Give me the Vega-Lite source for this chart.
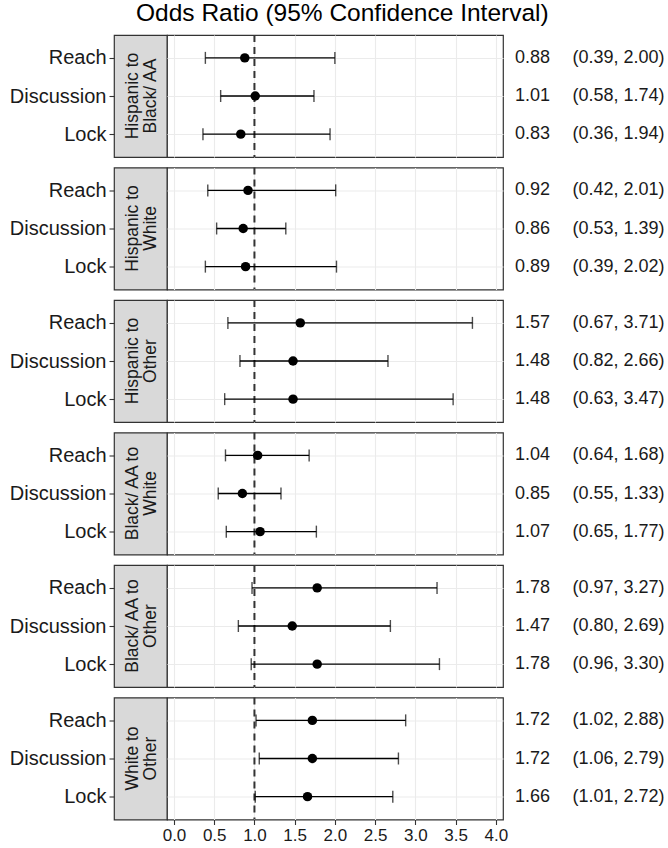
{
  "$schema": "https://vega.github.io/schema/vega-lite/v6.json",
  "padding": {"left": 8, "top": 0, "right": 0, "bottom": 0},
  "title": {"text": "Odds Ratio (95% Confidence Interval)", "fontSize": 24.5, "font": "Liberation Sans", "fontWeight": "normal", "color": "#000000", "anchor": "middle", "frame": "bounds", "offset": 7, "dx": 4},
  "config": {"font": "Liberation Sans", "view": {"stroke": null}},
  "datasets": {
    "d": [
      {"g": 1, "group": "Hispanic to\nBlack/ AA", "outcome": "Reach", "or": 0.88, "lo": 0.39, "hi": 2.00},
      {"g": 1, "group": "Hispanic to\nBlack/ AA", "outcome": "Discussion", "or": 1.01, "lo": 0.58, "hi": 1.74},
      {"g": 1, "group": "Hispanic to\nBlack/ AA", "outcome": "Lock", "or": 0.83, "lo": 0.36, "hi": 1.94},
      {"g": 2, "group": "Hispanic to\nWhite", "outcome": "Reach", "or": 0.92, "lo": 0.42, "hi": 2.01},
      {"g": 2, "group": "Hispanic to\nWhite", "outcome": "Discussion", "or": 0.86, "lo": 0.53, "hi": 1.39},
      {"g": 2, "group": "Hispanic to\nWhite", "outcome": "Lock", "or": 0.89, "lo": 0.39, "hi": 2.02},
      {"g": 3, "group": "Hispanic to\nOther", "outcome": "Reach", "or": 1.57, "lo": 0.67, "hi": 3.71},
      {"g": 3, "group": "Hispanic to\nOther", "outcome": "Discussion", "or": 1.48, "lo": 0.82, "hi": 2.66},
      {"g": 3, "group": "Hispanic to\nOther", "outcome": "Lock", "or": 1.48, "lo": 0.63, "hi": 3.47},
      {"g": 4, "group": "Black/ AA to\nWhite", "outcome": "Reach", "or": 1.04, "lo": 0.64, "hi": 1.68},
      {"g": 4, "group": "Black/ AA to\nWhite", "outcome": "Discussion", "or": 0.85, "lo": 0.55, "hi": 1.33},
      {"g": 4, "group": "Black/ AA to\nWhite", "outcome": "Lock", "or": 1.07, "lo": 0.65, "hi": 1.77},
      {"g": 5, "group": "Black/ AA to\nOther", "outcome": "Reach", "or": 1.78, "lo": 0.97, "hi": 3.27},
      {"g": 5, "group": "Black/ AA to\nOther", "outcome": "Discussion", "or": 1.47, "lo": 0.80, "hi": 2.69},
      {"g": 5, "group": "Black/ AA to\nOther", "outcome": "Lock", "or": 1.78, "lo": 0.96, "hi": 3.30},
      {"g": 6, "group": "White to\nOther", "outcome": "Reach", "or": 1.72, "lo": 1.02, "hi": 2.88},
      {"g": 6, "group": "White to\nOther", "outcome": "Discussion", "or": 1.72, "lo": 1.06, "hi": 2.79},
      {"g": 6, "group": "White to\nOther", "outcome": "Lock", "or": 1.66, "lo": 1.01, "hi": 2.72}
    ]
  },
  "columns": 3,
  "spacing": {"row": 10.5, "column": 0},
  "bounds": "flush",
  "concat": [
    {"width": 53, "height": 122, "data": {"name": "d"}, "transform": [{"filter": "datum.g == 1"}],
     "view": {"fill": "#d9d9d9", "stroke": "#333333", "strokeWidth": 1.2},
     "layer": [
       {"mark": {"type": "point", "opacity": 0}, "encoding": {"y": {"field": "outcome", "type": "nominal", "sort": ["Reach", "Discussion", "Lock"], "scale": {"type": "point", "padding": 0.6}, "axis": {"title": null, "grid": false, "domain": false, "labelFontSize": 20, "labelColor": "#1a1a1a", "tickColor": "#333333", "tickSize": 5, "tickWidth": 1.1, "labelPadding": 3}}}},
       {"transform": [{"filter": "datum.outcome == 'Reach'"}], "mark": {"type": "text", "angle": 270, "fontSize": 17.5, "color": "#1a1a1a", "lineBreak": "\n", "lineHeight": 18, "align": "center", "baseline": "middle", "dy": -8}, "encoding": {"text": {"field": "group"}}}
     ]},
    {"width": 336, "height": 122, "data": {"name": "d"}, "transform": [{"filter": "datum.g == 1"}],
     "view": {"fill": "#ffffff", "stroke": "#333333", "strokeWidth": 1.2},
     "layer": [
       {"transform": [{"filter": "datum.outcome == 'Reach'"}], "mark": {"type": "rule", "color": "#333333", "strokeWidth": 2, "strokeDash": [7, 5]}, "encoding": {"x": {"datum": 1, "type": "quantitative", "scale": {"domain": [-0.087, 4.09], "nice": false, "zero": false}, "axis": {"title": null, "labels": false, "ticks": false, "domain": false, "grid": true, "values": [0, 0.25, 0.5, 0.75, 1, 1.25, 1.5, 1.75, 2, 2.25, 2.5, 2.75, 3, 3.25, 3.5, 3.75, 4], "gridColor": "#ebebeb", "gridWidth": {"condition": {"test": "(datum.value*4) % 2 == 0", "value": 1.1}, "value": 0.55}}}}},
       {"mark": {"type": "rule", "color": "#000000", "strokeWidth": 1.4}, "encoding": {"x": {"field": "lo", "type": "quantitative"}, "x2": {"field": "hi"}, "y": {"field": "outcome", "type": "nominal", "sort": ["Reach", "Discussion", "Lock"], "scale": {"type": "point", "padding": 0.6}, "axis": {"title": null, "labels": false, "ticks": false, "domain": false, "grid": true, "gridColor": "#ebebeb", "gridWidth": 1.1}}}},
       {"mark": {"type": "tick", "color": "#000000", "thickness": 1.4, "size": 12}, "encoding": {"x": {"field": "lo", "type": "quantitative"}, "y": {"field": "outcome", "type": "nominal", "sort": ["Reach", "Discussion", "Lock"]}}},
       {"mark": {"type": "tick", "color": "#000000", "thickness": 1.4, "size": 12}, "encoding": {"x": {"field": "hi", "type": "quantitative"}, "y": {"field": "outcome", "type": "nominal", "sort": ["Reach", "Discussion", "Lock"]}}},
       {"mark": {"type": "point", "filled": true, "color": "#000000", "opacity": 1, "size": 90}, "encoding": {"x": {"field": "or", "type": "quantitative"}, "y": {"field": "outcome", "type": "nominal", "sort": ["Reach", "Discussion", "Lock"]}}}
     ]},
    {"width": 165, "height": 122, "data": {"name": "d"},
     "transform": [{"filter": "datum.g == 1"}, {"calculate": "format(datum.or, '.2f')", "as": "or_txt"}, {"calculate": "'(' + format(datum.lo, '.2f') + ', ' + format(datum.hi, '.2f') + ')'", "as": "ci_txt"}, {"fold": ["or_txt", "ci_txt"], "as": ["col", "txt"]}],
     "mark": {"type": "text", "fontSize": 18, "color": "#1a1a1a"},
     "encoding": {
       "x": {"field": "col", "type": "nominal", "scale": {"type": "point", "domain": ["or_txt", "ci_txt"], "padding": 0.459, "align": 0.373}, "axis": null},
       "y": {"field": "outcome", "type": "nominal", "sort": ["Reach", "Discussion", "Lock"], "scale": {"type": "point", "padding": 0.6}, "axis": null},
       "text": {"field": "txt"}
     }},

    {"width": 53, "height": 122, "data": {"name": "d"}, "transform": [{"filter": "datum.g == 2"}],
     "view": {"fill": "#d9d9d9", "stroke": "#333333", "strokeWidth": 1.2},
     "layer": [
       {"mark": {"type": "point", "opacity": 0}, "encoding": {"y": {"field": "outcome", "type": "nominal", "sort": ["Reach", "Discussion", "Lock"], "scale": {"type": "point", "padding": 0.6}, "axis": {"title": null, "grid": false, "domain": false, "labelFontSize": 20, "labelColor": "#1a1a1a", "tickColor": "#333333", "tickSize": 5, "tickWidth": 1.1, "labelPadding": 3}}}},
       {"transform": [{"filter": "datum.outcome == 'Reach'"}], "mark": {"type": "text", "angle": 270, "fontSize": 17.5, "color": "#1a1a1a", "lineBreak": "\n", "lineHeight": 18, "align": "center", "baseline": "middle", "dy": -8}, "encoding": {"text": {"field": "group"}}}
     ]},
    {"width": 336, "height": 122, "data": {"name": "d"}, "transform": [{"filter": "datum.g == 2"}],
     "view": {"fill": "#ffffff", "stroke": "#333333", "strokeWidth": 1.2},
     "layer": [
       {"transform": [{"filter": "datum.outcome == 'Reach'"}], "mark": {"type": "rule", "color": "#333333", "strokeWidth": 2, "strokeDash": [7, 5]}, "encoding": {"x": {"datum": 1, "type": "quantitative", "scale": {"domain": [-0.087, 4.09], "nice": false, "zero": false}, "axis": {"title": null, "labels": false, "ticks": false, "domain": false, "grid": true, "values": [0, 0.25, 0.5, 0.75, 1, 1.25, 1.5, 1.75, 2, 2.25, 2.5, 2.75, 3, 3.25, 3.5, 3.75, 4], "gridColor": "#ebebeb", "gridWidth": {"condition": {"test": "(datum.value*4) % 2 == 0", "value": 1.1}, "value": 0.55}}}}},
       {"mark": {"type": "rule", "color": "#000000", "strokeWidth": 1.4}, "encoding": {"x": {"field": "lo", "type": "quantitative"}, "x2": {"field": "hi"}, "y": {"field": "outcome", "type": "nominal", "sort": ["Reach", "Discussion", "Lock"], "scale": {"type": "point", "padding": 0.6}, "axis": {"title": null, "labels": false, "ticks": false, "domain": false, "grid": true, "gridColor": "#ebebeb", "gridWidth": 1.1}}}},
       {"mark": {"type": "tick", "color": "#000000", "thickness": 1.4, "size": 12}, "encoding": {"x": {"field": "lo", "type": "quantitative"}, "y": {"field": "outcome", "type": "nominal", "sort": ["Reach", "Discussion", "Lock"]}}},
       {"mark": {"type": "tick", "color": "#000000", "thickness": 1.4, "size": 12}, "encoding": {"x": {"field": "hi", "type": "quantitative"}, "y": {"field": "outcome", "type": "nominal", "sort": ["Reach", "Discussion", "Lock"]}}},
       {"mark": {"type": "point", "filled": true, "color": "#000000", "opacity": 1, "size": 90}, "encoding": {"x": {"field": "or", "type": "quantitative"}, "y": {"field": "outcome", "type": "nominal", "sort": ["Reach", "Discussion", "Lock"]}}}
     ]},
    {"width": 165, "height": 122, "data": {"name": "d"},
     "transform": [{"filter": "datum.g == 2"}, {"calculate": "format(datum.or, '.2f')", "as": "or_txt"}, {"calculate": "'(' + format(datum.lo, '.2f') + ', ' + format(datum.hi, '.2f') + ')'", "as": "ci_txt"}, {"fold": ["or_txt", "ci_txt"], "as": ["col", "txt"]}],
     "mark": {"type": "text", "fontSize": 18, "color": "#1a1a1a"},
     "encoding": {
       "x": {"field": "col", "type": "nominal", "scale": {"type": "point", "domain": ["or_txt", "ci_txt"], "padding": 0.459, "align": 0.373}, "axis": null},
       "y": {"field": "outcome", "type": "nominal", "sort": ["Reach", "Discussion", "Lock"], "scale": {"type": "point", "padding": 0.6}, "axis": null},
       "text": {"field": "txt"}
     }},

    {"width": 53, "height": 122, "data": {"name": "d"}, "transform": [{"filter": "datum.g == 3"}],
     "view": {"fill": "#d9d9d9", "stroke": "#333333", "strokeWidth": 1.2},
     "layer": [
       {"mark": {"type": "point", "opacity": 0}, "encoding": {"y": {"field": "outcome", "type": "nominal", "sort": ["Reach", "Discussion", "Lock"], "scale": {"type": "point", "padding": 0.6}, "axis": {"title": null, "grid": false, "domain": false, "labelFontSize": 20, "labelColor": "#1a1a1a", "tickColor": "#333333", "tickSize": 5, "tickWidth": 1.1, "labelPadding": 3}}}},
       {"transform": [{"filter": "datum.outcome == 'Reach'"}], "mark": {"type": "text", "angle": 270, "fontSize": 17.5, "color": "#1a1a1a", "lineBreak": "\n", "lineHeight": 18, "align": "center", "baseline": "middle", "dy": -8}, "encoding": {"text": {"field": "group"}}}
     ]},
    {"width": 336, "height": 122, "data": {"name": "d"}, "transform": [{"filter": "datum.g == 3"}],
     "view": {"fill": "#ffffff", "stroke": "#333333", "strokeWidth": 1.2},
     "layer": [
       {"transform": [{"filter": "datum.outcome == 'Reach'"}], "mark": {"type": "rule", "color": "#333333", "strokeWidth": 2, "strokeDash": [7, 5]}, "encoding": {"x": {"datum": 1, "type": "quantitative", "scale": {"domain": [-0.087, 4.09], "nice": false, "zero": false}, "axis": {"title": null, "labels": false, "ticks": false, "domain": false, "grid": true, "values": [0, 0.25, 0.5, 0.75, 1, 1.25, 1.5, 1.75, 2, 2.25, 2.5, 2.75, 3, 3.25, 3.5, 3.75, 4], "gridColor": "#ebebeb", "gridWidth": {"condition": {"test": "(datum.value*4) % 2 == 0", "value": 1.1}, "value": 0.55}}}}},
       {"mark": {"type": "rule", "color": "#000000", "strokeWidth": 1.4}, "encoding": {"x": {"field": "lo", "type": "quantitative"}, "x2": {"field": "hi"}, "y": {"field": "outcome", "type": "nominal", "sort": ["Reach", "Discussion", "Lock"], "scale": {"type": "point", "padding": 0.6}, "axis": {"title": null, "labels": false, "ticks": false, "domain": false, "grid": true, "gridColor": "#ebebeb", "gridWidth": 1.1}}}},
       {"mark": {"type": "tick", "color": "#000000", "thickness": 1.4, "size": 12}, "encoding": {"x": {"field": "lo", "type": "quantitative"}, "y": {"field": "outcome", "type": "nominal", "sort": ["Reach", "Discussion", "Lock"]}}},
       {"mark": {"type": "tick", "color": "#000000", "thickness": 1.4, "size": 12}, "encoding": {"x": {"field": "hi", "type": "quantitative"}, "y": {"field": "outcome", "type": "nominal", "sort": ["Reach", "Discussion", "Lock"]}}},
       {"mark": {"type": "point", "filled": true, "color": "#000000", "opacity": 1, "size": 90}, "encoding": {"x": {"field": "or", "type": "quantitative"}, "y": {"field": "outcome", "type": "nominal", "sort": ["Reach", "Discussion", "Lock"]}}}
     ]},
    {"width": 165, "height": 122, "data": {"name": "d"},
     "transform": [{"filter": "datum.g == 3"}, {"calculate": "format(datum.or, '.2f')", "as": "or_txt"}, {"calculate": "'(' + format(datum.lo, '.2f') + ', ' + format(datum.hi, '.2f') + ')'", "as": "ci_txt"}, {"fold": ["or_txt", "ci_txt"], "as": ["col", "txt"]}],
     "mark": {"type": "text", "fontSize": 18, "color": "#1a1a1a"},
     "encoding": {
       "x": {"field": "col", "type": "nominal", "scale": {"type": "point", "domain": ["or_txt", "ci_txt"], "padding": 0.459, "align": 0.373}, "axis": null},
       "y": {"field": "outcome", "type": "nominal", "sort": ["Reach", "Discussion", "Lock"], "scale": {"type": "point", "padding": 0.6}, "axis": null},
       "text": {"field": "txt"}
     }},

    {"width": 53, "height": 122, "data": {"name": "d"}, "transform": [{"filter": "datum.g == 4"}],
     "view": {"fill": "#d9d9d9", "stroke": "#333333", "strokeWidth": 1.2},
     "layer": [
       {"mark": {"type": "point", "opacity": 0}, "encoding": {"y": {"field": "outcome", "type": "nominal", "sort": ["Reach", "Discussion", "Lock"], "scale": {"type": "point", "padding": 0.6}, "axis": {"title": null, "grid": false, "domain": false, "labelFontSize": 20, "labelColor": "#1a1a1a", "tickColor": "#333333", "tickSize": 5, "tickWidth": 1.1, "labelPadding": 3}}}},
       {"transform": [{"filter": "datum.outcome == 'Reach'"}], "mark": {"type": "text", "angle": 270, "fontSize": 17.5, "color": "#1a1a1a", "lineBreak": "\n", "lineHeight": 18, "align": "center", "baseline": "middle", "dy": -8}, "encoding": {"text": {"field": "group"}}}
     ]},
    {"width": 336, "height": 122, "data": {"name": "d"}, "transform": [{"filter": "datum.g == 4"}],
     "view": {"fill": "#ffffff", "stroke": "#333333", "strokeWidth": 1.2},
     "layer": [
       {"transform": [{"filter": "datum.outcome == 'Reach'"}], "mark": {"type": "rule", "color": "#333333", "strokeWidth": 2, "strokeDash": [7, 5]}, "encoding": {"x": {"datum": 1, "type": "quantitative", "scale": {"domain": [-0.087, 4.09], "nice": false, "zero": false}, "axis": {"title": null, "labels": false, "ticks": false, "domain": false, "grid": true, "values": [0, 0.25, 0.5, 0.75, 1, 1.25, 1.5, 1.75, 2, 2.25, 2.5, 2.75, 3, 3.25, 3.5, 3.75, 4], "gridColor": "#ebebeb", "gridWidth": {"condition": {"test": "(datum.value*4) % 2 == 0", "value": 1.1}, "value": 0.55}}}}},
       {"mark": {"type": "rule", "color": "#000000", "strokeWidth": 1.4}, "encoding": {"x": {"field": "lo", "type": "quantitative"}, "x2": {"field": "hi"}, "y": {"field": "outcome", "type": "nominal", "sort": ["Reach", "Discussion", "Lock"], "scale": {"type": "point", "padding": 0.6}, "axis": {"title": null, "labels": false, "ticks": false, "domain": false, "grid": true, "gridColor": "#ebebeb", "gridWidth": 1.1}}}},
       {"mark": {"type": "tick", "color": "#000000", "thickness": 1.4, "size": 12}, "encoding": {"x": {"field": "lo", "type": "quantitative"}, "y": {"field": "outcome", "type": "nominal", "sort": ["Reach", "Discussion", "Lock"]}}},
       {"mark": {"type": "tick", "color": "#000000", "thickness": 1.4, "size": 12}, "encoding": {"x": {"field": "hi", "type": "quantitative"}, "y": {"field": "outcome", "type": "nominal", "sort": ["Reach", "Discussion", "Lock"]}}},
       {"mark": {"type": "point", "filled": true, "color": "#000000", "opacity": 1, "size": 90}, "encoding": {"x": {"field": "or", "type": "quantitative"}, "y": {"field": "outcome", "type": "nominal", "sort": ["Reach", "Discussion", "Lock"]}}}
     ]},
    {"width": 165, "height": 122, "data": {"name": "d"},
     "transform": [{"filter": "datum.g == 4"}, {"calculate": "format(datum.or, '.2f')", "as": "or_txt"}, {"calculate": "'(' + format(datum.lo, '.2f') + ', ' + format(datum.hi, '.2f') + ')'", "as": "ci_txt"}, {"fold": ["or_txt", "ci_txt"], "as": ["col", "txt"]}],
     "mark": {"type": "text", "fontSize": 18, "color": "#1a1a1a"},
     "encoding": {
       "x": {"field": "col", "type": "nominal", "scale": {"type": "point", "domain": ["or_txt", "ci_txt"], "padding": 0.459, "align": 0.373}, "axis": null},
       "y": {"field": "outcome", "type": "nominal", "sort": ["Reach", "Discussion", "Lock"], "scale": {"type": "point", "padding": 0.6}, "axis": null},
       "text": {"field": "txt"}
     }},

    {"width": 53, "height": 122, "data": {"name": "d"}, "transform": [{"filter": "datum.g == 5"}],
     "view": {"fill": "#d9d9d9", "stroke": "#333333", "strokeWidth": 1.2},
     "layer": [
       {"mark": {"type": "point", "opacity": 0}, "encoding": {"y": {"field": "outcome", "type": "nominal", "sort": ["Reach", "Discussion", "Lock"], "scale": {"type": "point", "padding": 0.6}, "axis": {"title": null, "grid": false, "domain": false, "labelFontSize": 20, "labelColor": "#1a1a1a", "tickColor": "#333333", "tickSize": 5, "tickWidth": 1.1, "labelPadding": 3}}}},
       {"transform": [{"filter": "datum.outcome == 'Reach'"}], "mark": {"type": "text", "angle": 270, "fontSize": 17.5, "color": "#1a1a1a", "lineBreak": "\n", "lineHeight": 18, "align": "center", "baseline": "middle", "dy": -8}, "encoding": {"text": {"field": "group"}}}
     ]},
    {"width": 336, "height": 122, "data": {"name": "d"}, "transform": [{"filter": "datum.g == 5"}],
     "view": {"fill": "#ffffff", "stroke": "#333333", "strokeWidth": 1.2},
     "layer": [
       {"transform": [{"filter": "datum.outcome == 'Reach'"}], "mark": {"type": "rule", "color": "#333333", "strokeWidth": 2, "strokeDash": [7, 5]}, "encoding": {"x": {"datum": 1, "type": "quantitative", "scale": {"domain": [-0.087, 4.09], "nice": false, "zero": false}, "axis": {"title": null, "labels": false, "ticks": false, "domain": false, "grid": true, "values": [0, 0.25, 0.5, 0.75, 1, 1.25, 1.5, 1.75, 2, 2.25, 2.5, 2.75, 3, 3.25, 3.5, 3.75, 4], "gridColor": "#ebebeb", "gridWidth": {"condition": {"test": "(datum.value*4) % 2 == 0", "value": 1.1}, "value": 0.55}}}}},
       {"mark": {"type": "rule", "color": "#000000", "strokeWidth": 1.4}, "encoding": {"x": {"field": "lo", "type": "quantitative"}, "x2": {"field": "hi"}, "y": {"field": "outcome", "type": "nominal", "sort": ["Reach", "Discussion", "Lock"], "scale": {"type": "point", "padding": 0.6}, "axis": {"title": null, "labels": false, "ticks": false, "domain": false, "grid": true, "gridColor": "#ebebeb", "gridWidth": 1.1}}}},
       {"mark": {"type": "tick", "color": "#000000", "thickness": 1.4, "size": 12}, "encoding": {"x": {"field": "lo", "type": "quantitative"}, "y": {"field": "outcome", "type": "nominal", "sort": ["Reach", "Discussion", "Lock"]}}},
       {"mark": {"type": "tick", "color": "#000000", "thickness": 1.4, "size": 12}, "encoding": {"x": {"field": "hi", "type": "quantitative"}, "y": {"field": "outcome", "type": "nominal", "sort": ["Reach", "Discussion", "Lock"]}}},
       {"mark": {"type": "point", "filled": true, "color": "#000000", "opacity": 1, "size": 90}, "encoding": {"x": {"field": "or", "type": "quantitative"}, "y": {"field": "outcome", "type": "nominal", "sort": ["Reach", "Discussion", "Lock"]}}}
     ]},
    {"width": 165, "height": 122, "data": {"name": "d"},
     "transform": [{"filter": "datum.g == 5"}, {"calculate": "format(datum.or, '.2f')", "as": "or_txt"}, {"calculate": "'(' + format(datum.lo, '.2f') + ', ' + format(datum.hi, '.2f') + ')'", "as": "ci_txt"}, {"fold": ["or_txt", "ci_txt"], "as": ["col", "txt"]}],
     "mark": {"type": "text", "fontSize": 18, "color": "#1a1a1a"},
     "encoding": {
       "x": {"field": "col", "type": "nominal", "scale": {"type": "point", "domain": ["or_txt", "ci_txt"], "padding": 0.459, "align": 0.373}, "axis": null},
       "y": {"field": "outcome", "type": "nominal", "sort": ["Reach", "Discussion", "Lock"], "scale": {"type": "point", "padding": 0.6}, "axis": null},
       "text": {"field": "txt"}
     }},

    {"width": 53, "height": 122, "data": {"name": "d"}, "transform": [{"filter": "datum.g == 6"}],
     "view": {"fill": "#d9d9d9", "stroke": "#333333", "strokeWidth": 1.2},
     "layer": [
       {"mark": {"type": "point", "opacity": 0}, "encoding": {"y": {"field": "outcome", "type": "nominal", "sort": ["Reach", "Discussion", "Lock"], "scale": {"type": "point", "padding": 0.6}, "axis": {"title": null, "grid": false, "domain": false, "labelFontSize": 20, "labelColor": "#1a1a1a", "tickColor": "#333333", "tickSize": 5, "tickWidth": 1.1, "labelPadding": 3}}}},
       {"transform": [{"filter": "datum.outcome == 'Reach'"}], "mark": {"type": "text", "angle": 270, "fontSize": 17.5, "color": "#1a1a1a", "lineBreak": "\n", "lineHeight": 18, "align": "center", "baseline": "middle", "dy": -8}, "encoding": {"text": {"field": "group"}}}
     ]},
    {"width": 336, "height": 122, "data": {"name": "d"}, "transform": [{"filter": "datum.g == 6"}],
     "view": {"fill": "#ffffff", "stroke": "#333333", "strokeWidth": 1.2},
     "layer": [
       {"transform": [{"filter": "datum.outcome == 'Reach'"}], "mark": {"type": "rule", "color": "#333333", "strokeWidth": 2, "strokeDash": [7, 5]}, "encoding": {"x": {"datum": 1, "type": "quantitative", "scale": {"domain": [-0.087, 4.09], "nice": false, "zero": false}, "axis": {"title": null, "domain": false, "grid": true, "values": [0, 0.25, 0.5, 0.75, 1, 1.25, 1.5, 1.75, 2, 2.25, 2.5, 2.75, 3, 3.25, 3.5, 3.75, 4], "gridColor": "#ebebeb", "gridWidth": {"condition": {"test": "(datum.value*4) % 2 == 0", "value": 1.1}, "value": 0.55}, "ticks": true, "tickColor": "#333333", "tickSize": 5, "tickWidth": 1.1, "tickOpacity": {"condition": {"test": "(datum.value*4) % 2 == 0", "value": 1}, "value": 0}, "labelExpr": "(datum.value*4) % 2 == 0 ? format(datum.value, '.1f') : ''", "labelFontSize": 17, "labelColor": "#1a1a1a", "labelPadding": 3, "labelFlush": false, "labelOverlap": false}}}},
       {"mark": {"type": "rule", "color": "#000000", "strokeWidth": 1.4}, "encoding": {"x": {"field": "lo", "type": "quantitative"}, "x2": {"field": "hi"}, "y": {"field": "outcome", "type": "nominal", "sort": ["Reach", "Discussion", "Lock"], "scale": {"type": "point", "padding": 0.6}, "axis": {"title": null, "labels": false, "ticks": false, "domain": false, "grid": true, "gridColor": "#ebebeb", "gridWidth": 1.1}}}},
       {"mark": {"type": "tick", "color": "#000000", "thickness": 1.4, "size": 12}, "encoding": {"x": {"field": "lo", "type": "quantitative"}, "y": {"field": "outcome", "type": "nominal", "sort": ["Reach", "Discussion", "Lock"]}}},
       {"mark": {"type": "tick", "color": "#000000", "thickness": 1.4, "size": 12}, "encoding": {"x": {"field": "hi", "type": "quantitative"}, "y": {"field": "outcome", "type": "nominal", "sort": ["Reach", "Discussion", "Lock"]}}},
       {"mark": {"type": "point", "filled": true, "color": "#000000", "opacity": 1, "size": 90}, "encoding": {"x": {"field": "or", "type": "quantitative"}, "y": {"field": "outcome", "type": "nominal", "sort": ["Reach", "Discussion", "Lock"]}}}
     ]},
    {"width": 165, "height": 122, "data": {"name": "d"},
     "transform": [{"filter": "datum.g == 6"}, {"calculate": "format(datum.or, '.2f')", "as": "or_txt"}, {"calculate": "'(' + format(datum.lo, '.2f') + ', ' + format(datum.hi, '.2f') + ')'", "as": "ci_txt"}, {"fold": ["or_txt", "ci_txt"], "as": ["col", "txt"]}],
     "mark": {"type": "text", "fontSize": 18, "color": "#1a1a1a"},
     "encoding": {
       "x": {"field": "col", "type": "nominal", "scale": {"type": "point", "domain": ["or_txt", "ci_txt"], "padding": 0.459, "align": 0.373}, "axis": null},
       "y": {"field": "outcome", "type": "nominal", "sort": ["Reach", "Discussion", "Lock"], "scale": {"type": "point", "padding": 0.6}, "axis": null},
       "text": {"field": "txt"}
     }}
  ]
}
